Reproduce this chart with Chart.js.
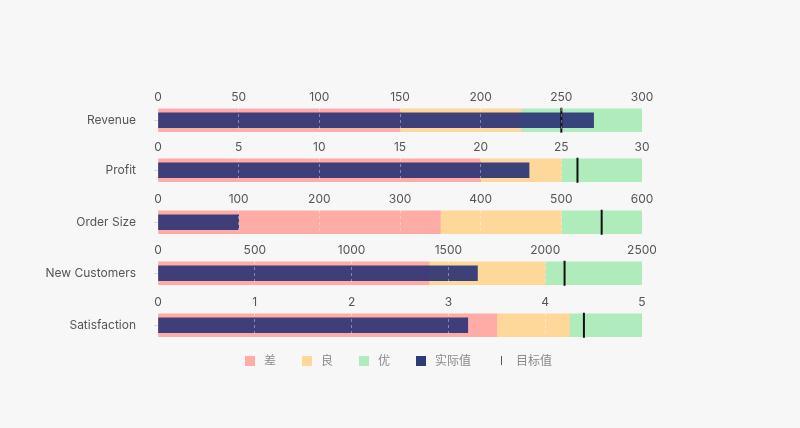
<!DOCTYPE html>
<html>
<head>
<meta charset="utf-8">
<style>
html,body{margin:0;padding:0;background:#f7f7f7;width:800px;height:428px;overflow:hidden}
.row{position:absolute;left:0;width:800px;height:59px}
.row canvas{display:block}
.lg{position:absolute;font:12px "Noto Sans CJK SC","Inter",sans-serif;color:#8a8a8a;line-height:14px;white-space:nowrap}
.sw{position:absolute}
</style>
<script src="https://cdn.jsdelivr.net/npm/chart.js@4/dist/chart.umd.min.js"></script>
</head>
<body>
<script>
const categories = ['Revenue','Profit','Order Size','New Customers','Satisfaction'];
const poorEnd  = [150, 20, 350, 1400, 3.5];
const fairEnd  = [225, 25, 500, 2000, 4.25];
const axisMax  = [300, 30, 600, 2500, 5];
const tickStep = [50, 5, 100, 500, 1];
const actual   = [270, 23, 100, 1650, 3.2];
const target   = [250, 26, 550, 2100, 4.4];
const rowTops  = [88, 138, 190, 241, 293];
const legendNames = ['差','良','优','实际值','目标值'];
const legendBoxX  = [245, 302, 359, 416, 501];
const legendTextX = [264, 321, 378, 435, 516];

const FONT = 'Inter, "Noto Sans", sans-serif';
const RED='#ffaca6', ORANGE='#fed79b', GREEN='#b0ebbc', NAVY='rgba(44,52,118,0.92)', SOLID='#2f3b79';

categories.forEach((name,i)=>{
  const box=document.createElement('div');
  box.className='row';
  box.style.top=rowTops[i]+'px';
  const cv=document.createElement('canvas');
  cv.width=800; cv.height=59;
  box.appendChild(cv);
  document.body.appendChild(box);
  const band=(label,v,color)=>({label,data:[v],backgroundColor:color,stack:'bands',barThickness:23,order:3,borderWidth:0,grouped:false});
  new Chart(cv,{
    type:'bar',
    data:{
      labels:[name],
      datasets:[
        {type:'line',label:'目标值',data:[target[i]],indexAxis:'y',showLine:false,stack:'target',order:1,
         pointStyle:'line',rotation:90,pointRadius:12.5,pointHoverRadius:12.5,pointBorderWidth:2,
         pointBorderColor:'#111',borderColor:'#111',clip:false},
        {label:'实际值',data:[actual[i]],backgroundColor:NAVY,stack:'actual',barThickness:15,order:2,borderWidth:0,grouped:false},
        band('差',poorEnd[i],RED),
        band('良',fairEnd[i]-poorEnd[i],ORANGE),
        band('优',axisMax[i]-fairEnd[i],GREEN)
      ]
    },
    options:{
      indexAxis:'y',responsive:false,animation:false,devicePixelRatio:1,
      layout:{padding:{left:0,right:158,top:0,bottom:0}},
      plugins:{legend:{display:false},tooltip:{enabled:false}},
      scales:{
        x:{
          position:'top',stacked:true,min:0,max:axisMax[i],
          afterFit:s=>{s.height=20},
          grid:{z:1,color:c=>c.index===0?'rgba(255,255,255,0)':'rgba(255,255,255,0.38)',drawTicks:false,lineWidth:1},
          border:{display:false,dash:[3,3]},
          ticks:{stepSize:tickStep[i],padding:3,maxRotation:0,autoSkip:false,color:'#555',
                 callback:v=>String(v),font:{family:FONT,size:12}}
        },
        y:{
          stacked:true,offset:true,
          afterFit:s=>{s.width=158;s.paddingTop=0;s.paddingBottom=0},
          border:{display:false},
          grid:{drawOnChartArea:false,offset:false,tickLength:4,tickColor:'rgba(176,210,176,0.6)'},
          ticks:{padding:18,color:'#555',font:{family:FONT,size:12}}
        }
      }
    }
  });
});

const swatch=[RED,ORANGE,GREEN,SOLID];
legendNames.forEach((t,i)=>{
  const s=document.createElement('div');
  s.className='sw';
  if(i<4){
    s.style.cssText+=`left:${legendBoxX[i]}px;top:356px;width:10px;height:10px;background:${swatch[i]}`;
  }else{
    s.style.cssText+=`left:${legendBoxX[i]}px;top:356px;width:1px;height:9px;background:#555`;
  }
  document.body.appendChild(s);
  const l=document.createElement('div');
  l.className='lg';
  l.textContent=t;
  l.style.left=legendTextX[i]+'px';
  l.style.top='353px';
  document.body.appendChild(l);
});
</script>
</body>
</html>
